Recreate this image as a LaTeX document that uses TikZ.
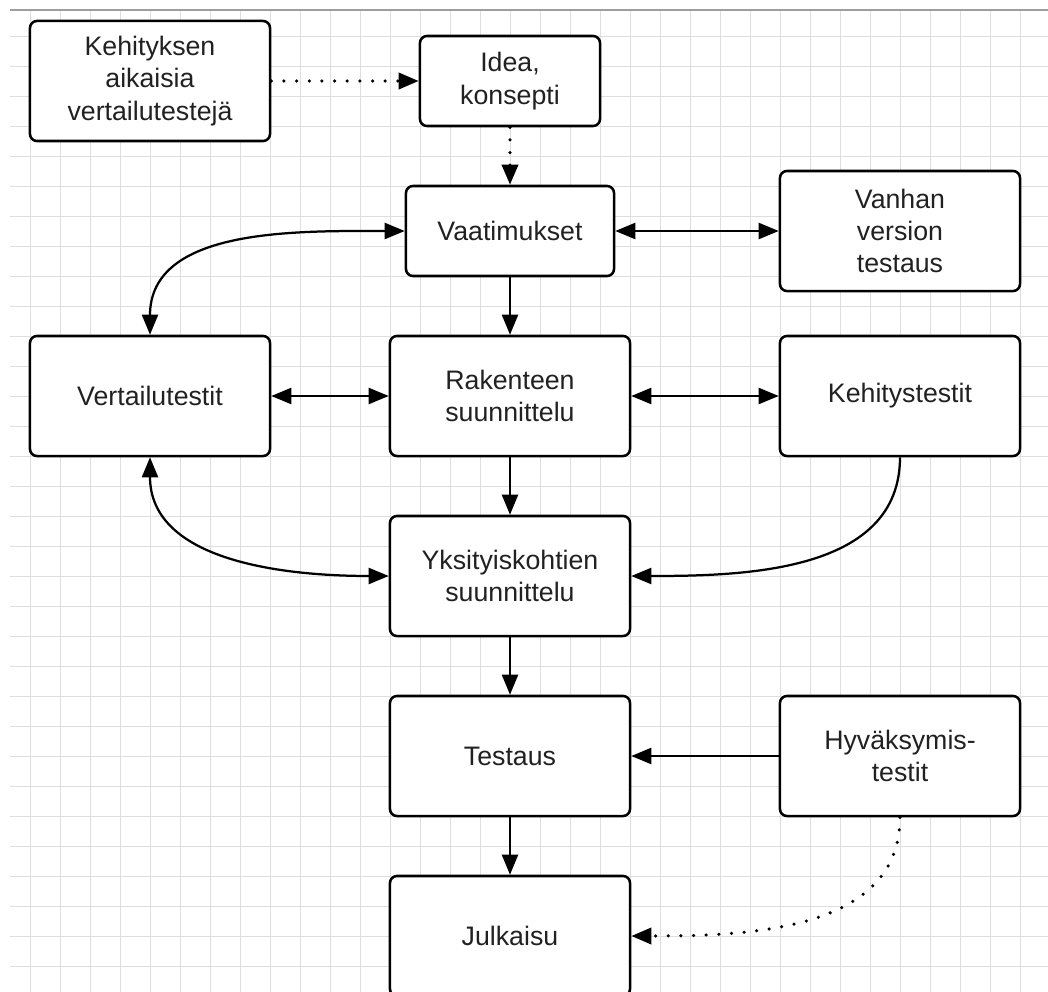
\documentclass[tikz,border=0pt]{standalone}
\usepackage{fontspec}
\setmainfont{Liberation Sans}
\usetikzlibrary{arrows.meta,calc}
\definecolor{GridClr}{rgb}{0.87,0.87,0.87}
\definecolor{RuleClr}{rgb}{0.62,0.62,0.62}
\definecolor{TextClr}{rgb}{0.13,0.13,0.13}

\begin{document}
\begin{tikzpicture}[x=0.025cm,y=-0.025cm,
  gridline/.style={line width=0.6pt,color=GridClr},
  box/.style={draw,fill=white,line width=1.8pt,rounded corners=5pt,align=center,
    text=TextClr,inner sep=0pt,font=\fontsize{19}{23}\selectfont},
  wide/.style={box,minimum width=6cm,minimum height=3cm},
  link/.style={line width=1.6pt,>={Triangle[length=0.5cm,width=0.4cm]}},
  dots/.style={link,line width=2.5pt,line cap=round,dash pattern=on 0pt off 9pt}]
\useasboundingbox (0,0) rectangle (1048,992);
\clip (0,0) rectangle (1048,992);

% background grid
\foreach \gx in {30,60,...,1020} \draw[gridline] (\gx,10) -- (\gx,992);
\foreach \gy in {36,66,...,966} \draw[gridline] (10,\gy) -- (1048,\gy);
\draw[line width=2pt,color=RuleClr] (10,10) -- (1048,10);

% boxes
\node[wide] (kehvert) at (150,81) {Kehityksen\\aikaisia\\vertailutestejä};
\node[box,minimum width=4.5cm,minimum height=2.25cm] (idea) at (510,81) {Idea,\\konsepti};
\node[box,minimum width=5.2cm,minimum height=2.25cm] (vaat) at (510,231) {Vaatimukset};
\node[wide] (vanhan) at (900,231) {Vanhan\\version\\testaus};
\node[wide] (vert) at (150,396) {Vertailutestit};
\node[wide] (rak) at (510,396) {Rakenteen\\suunnittelu};
\node[wide] (kehtest) at (900,396) {Kehitystestit};
\node[wide] (yks) at (510,576) {Yksityiskohtien\\suunnittelu};
\node[wide] (test) at (510,756) {Testaus};
\node[wide] (hyv) at (900,756) {Hyväksymis-\\testit};
\node[wide] (julk) at (510,936) {Julkaisu};

% connectors
\draw[dots,->] (kehvert) -- (idea);
\draw[dots,->] (idea) -- (vaat);
\draw[link,<->] (vaat) -- (vanhan);
\draw[link,->] (vaat) -- (rak);
\draw[link,<->] (vert) -- (rak);
\draw[link,<->] (rak) -- (kehtest);
\draw[link,->] (rak) -- (yks);
\draw[link,->] (yks) -- (test);
\draw[link,->] (test) -- (julk);
\draw[link,->] (hyv) -- (test);
\draw[link,<->] (vaat.west) to[out=180,in=90] (vert.north);
\draw[link,<->] (vert.south) to[out=-90,in=180] (yks.west);
\draw[link,->] (kehtest.south) to[out=-90,in=0] (yks.east);
\draw[dots,->] (hyv.south) to[out=-90,in=0] (julk.east);

\end{tikzpicture}
\end{document}
